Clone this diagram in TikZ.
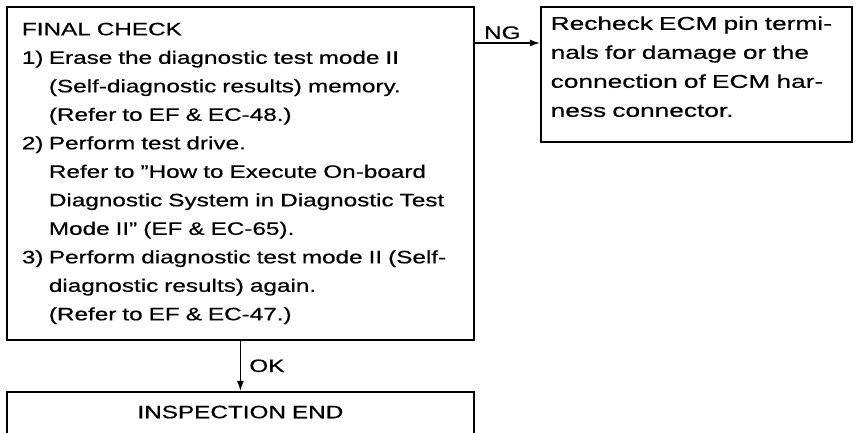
\documentclass[tikz,border=0pt]{standalone}
\usepackage{fontspec}
\setmainfont{Liberation Sans}[FakeStretch=1.35, FakeBold=0.5]
\usetikzlibrary{arrows.meta,positioning}

\newlength{\numw}
\setlength{\numw}{27pt}
\newcommand{\stepnum}[1]{\makebox[\numw][l]{#1}}
\newcommand{\stepcont}{\hspace*{\numw}}

\begin{document}
\begin{tikzpicture}[>={Latex[length=10pt,width=7pt]}, x=1pt, y=1pt,
    box/.style={draw, line width=1.8pt, align=left, inner xsep=15pt, inner ysep=14pt,
      font=\fontsize{18}{28.5}\selectfont},
    lbl/.style={font=\fontsize{18}{20}\selectfont}]
    \useasboundingbox (0,0) rectangle (858,-433);
    \clip (0,0) rectangle (858,-433);

    \node[box, anchor=north west, text width=437pt, minimum height=333pt] (check) at (6,-6) {%
      FINAL CHECK\\
      \stepnum{1)}Erase the diagnostic test mode II\\
      \stepcont(Self-diagnostic results) memory.\\
      \stepcont(Refer to EF \& EC-48.)\\
      \stepnum{2)}Perform test drive.\\
      \stepcont Refer to ''How to Execute On-board\\
      \stepcont Diagnostic System in Diagnostic Test\\
      \stepcont Mode II'' (EF \& EC-65).\\
      \stepnum{3)}Perform diagnostic test mode II (Self-\\
      \stepcont diagnostic results) again.\\
      \stepcont(Refer to EF \& EC-47.)};
    \node[box, right=65pt of check.north east, anchor=north west, text width=291pt,
      inner xsep=10pt, inner ysep=9.5pt, font=\fontsize{18.5}{29}\selectfont\addfontfeature{FakeStretch=1.42}] (ecm) {%
      Recheck ECM pin termi-\\
      nals for damage or the\\
      connection of ECM har-\\
      ness connector.\rule[-16pt]{0pt}{16pt}};
    \node[box, below=50pt of check.south, text width=437pt, align=center] (inspect)
      {INSPECTION END\rule[-30pt]{0pt}{0pt}};

    \draw[->, line width=1.2pt] ([yshift=-37pt]check.north east) -- ([yshift=-37pt]check.north east -| ecm.west)
      node[midway, above, xshift=-5pt, lbl] {NG};
    \draw[->, line width=1.2pt] (check.south) -- node[right, xshift=5pt, lbl] {OK} (inspect.north);
\end{tikzpicture}
\end{document}
